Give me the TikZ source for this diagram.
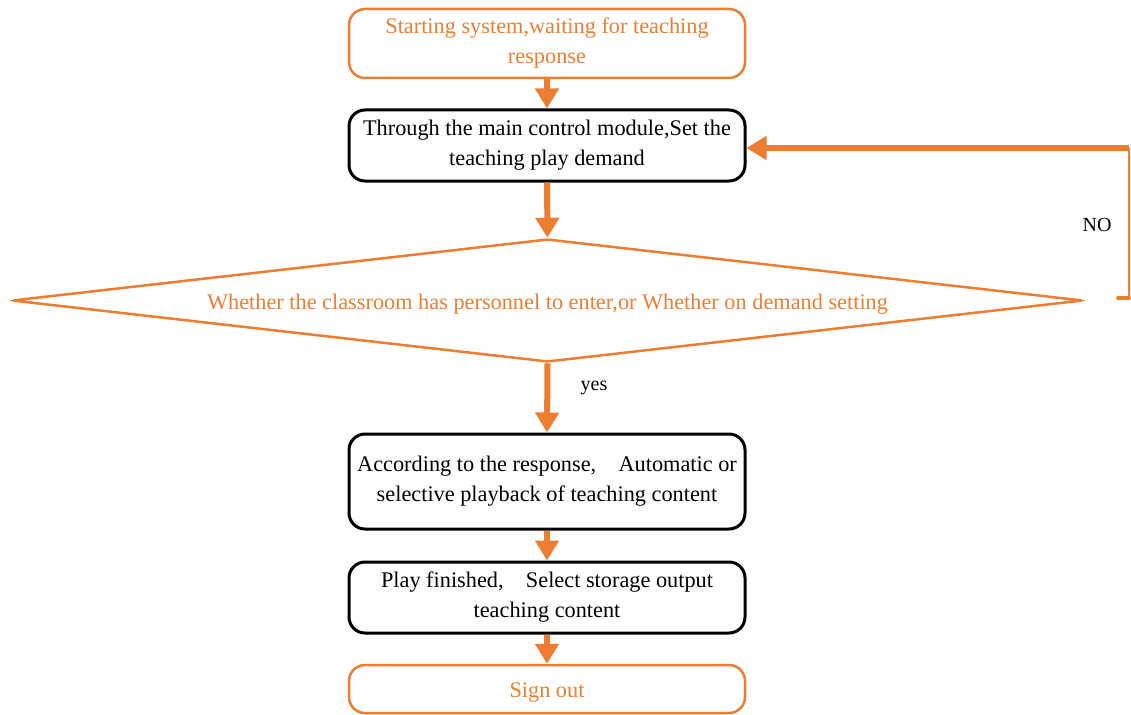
\documentclass[tikz,border=0pt]{standalone}
\usepackage{fontspec}
\setmainfont{Liberation Serif}
\usetikzlibrary{shapes.geometric,arrows.meta}
\definecolor{orng}{HTML}{ED7D31}
\tikzset{
  box/.style={draw=black,line width=3pt,rounded corners=16pt,minimum width=396pt,align=center,font=\fontsize{22.3}{30}\selectfont,inner sep=0pt,execute at begin node={\rule{0pt}{22pt}}},
  obox/.style={box,draw=orng,line width=2.5pt,text=orng},
  flow/.style={draw=orng,line width=6pt,-{Triangle[width=23pt,length=20pt]}},
  lbl/.style={font=\fontsize{20}{24}\selectfont,text=black}
}
\begin{document}
\begin{tikzpicture}[x=1pt,y=-1pt]
\useasboundingbox (0,0) rectangle (1131,714);
\node[obox,minimum height=69pt] (start) at (547,43.5) {Starting system,waiting for teaching\\response};
\node[box,minimum height=71pt] (set) at (547,145.5) {Through the main control module,Set the\\teaching play demand};
\node[draw=orng,line width=2.5pt,shape=diamond,aspect=8.7,minimum width=1071pt,minimum height=123pt,inner sep=0pt,rounded corners=3pt,text=orng,font=\fontsize{22.3}{26}\selectfont,execute at begin node={\rule{0pt}{22pt}}] (dec) at (547.5,300.5) {Whether the classroom has personnel to enter,or Whether on demand setting};
\node[box,minimum height=95pt] (play) at (547,481.5) {According to the response,\quad Automatic or\\selective playback of teaching content};
\node[box,minimum height=71pt] (fin) at (547,597.5) {Play finished,\quad Select storage output\\teaching content};
\node[obox,minimum height=48pt] (out) at (547,689) {Sign out};
\draw[flow] (start.south) -- (set.north);
\draw[flow] (set.south) -- (dec.north);
\draw[flow] (dec.south) -- (play.north);
\draw[flow] (play.south) -- (fin.north);
\draw[flow] (fin.south) -- (out.north);
\coordinate (nostart) at (1118,298);
\coordinate (nocorner) at (1129,298);
\coordinate (notop) at (1129,148);
\draw[orng,line width=4pt,line cap=round] (nostart) -- (nocorner);
\draw[orng,line width=2pt] (nocorner) -- (notop);
\draw[flow] (notop) -- (set.east |- notop);
\node[lbl] (no) at (1097,225) {NO};
\node[lbl] (yes) at (594,388) {yes};
\end{tikzpicture}
\end{document}
